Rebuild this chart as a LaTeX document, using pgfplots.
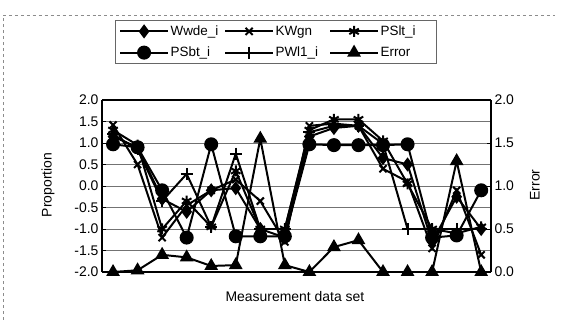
\documentclass[border=0pt]{standalone}
\usepackage{pgfplots}
\pgfplotsset{compat=1.18}
\usepackage{pgfplotstable}
\usepackage{fontspec}
\setmainfont{Liberation Sans}

\pgfplotstableread{
x  wwde  kwgn  pslt  psbt  pwl   err
0   1.15  1.42  1.30  0.97  1.20  0.00
1   0.90  0.50  0.95  0.90  0.85  0.02
2  -0.30 -1.20 -1.00 -0.10 -0.35  0.20
3  -0.60 -0.45 -0.35 -1.20  0.28  0.17
4  -0.10 -0.10 -0.95  0.97 -0.95  0.07
5  -0.05  0.15  0.35 -1.17  0.75  0.08
6  -1.00 -0.35 -1.00 -1.17 -1.00  1.55
7  -1.20 -1.30 -1.00 -1.17 -1.00  0.08
8   1.15  1.40  1.30  0.97  1.25  0.00
9   1.35  1.45  1.55  0.95  1.40  0.29
10  1.40  1.40  1.55  0.95  1.40  0.37
11  0.65  0.40  1.05  0.95  0.98  0.00
12  0.50  0.10  0.05  0.97 -1.00  0.00
13 -1.30 -1.45 -1.00 -1.20 -1.00  0.00
14 -0.25 -0.10 -1.10 -1.15 -1.00  1.29
15 -1.00 -1.60 -0.95 -0.10 -1.00  0.00
}\datatable

\begin{document}
\begin{tikzpicture}
\path (0bp,0bp) rectangle (565bp,324bp);
\draw[black!45, dashed, line width=0.5pt] (3bp,4bp) -- (3bp,309bp) -- (555bp,309bp);

\pgfplotsset{
  every axis/.append style={
    at={(102bp,52bp)}, anchor=south west,
    width=389bp, height=172bp, scale only axis,
    xmin=-0.45, xmax=15.4,
    axis line style={line width=1.2pt},
    tick style={black, line width=0.8pt},
    major tick length=4bp,
    tick label style={font=\fontsize{14}{16}\selectfont},
    label style={font=\fontsize{14}{16}\selectfont},
    yticklabel style={/pgf/number format/.cd, fixed, fixed zerofill, precision=1, assume math mode=true},
  },
  myline/.style={black, line width=2pt, mark options={solid}},
}

\begin{axis}[
  ymin=-2, ymax=2,
  axis y line*=left,
  ytick={-2,-1.5,-1,-0.5,0,0.5,1,1.5,2},
  xtick=\empty,
  ymajorgrids, grid style={black!55, line width=0.7pt},
  ylabel={Proportion},
  ylabel style={at={(axis description cs:-0.139,0.506)}, anchor=center},
  xlabel={Measurement data set},
  xlabel style={at={(axis description cs:0.496,-0.145)}, anchor=center},
  legend columns=3,
  legend cell align=left,
  legend style={at={(axis description cs:0.033,1.465)}, anchor=north west,
    draw=black!60, line width=0.5pt,
    font=\fontsize{13.5}{15}\selectfont,
    inner sep=4bp, row sep=7bp,
    nodes={inner sep=1.5bp},
    /tikz/every even column/.append style={column sep=2bp}},
  legend image code/.code={\draw[mark repeat=2,mark phase=2] plot coordinates {(0bp,0bp)(24bp,0bp)(48bp,0bp)};},
]
\addplot[myline, mark=diamond*, mark size=5.5bp] table[x=x,y=wwde]{\datatable};
\addlegendentry{\makebox[50bp][l]{Wwde\_i}}
\addplot[myline, mark=x, mark size=5bp] table[x=x,y=kwgn]{\datatable};
\addlegendentry{\makebox[50bp][l]{KWgn}}
\addplot[myline, mark=asterisk, mark size=5.5bp] table[x=x,y=pslt]{\datatable};
\addlegendentry{\makebox[50bp][l]{PSlt\_i}}
\addplot[myline, mark=*, mark size=6bp] table[x=x,y=psbt]{\datatable};
\addlegendentry{\makebox[50bp][l]{PSbt\_i}}
\addplot[myline, mark=+, mark size=6bp] table[x=x,y=pwl]{\datatable};
\addlegendentry{\makebox[50bp][l]{PWl1\_i}}
\addlegendimage{myline, mark=triangle*, mark size=6bp}
\addlegendentry{\makebox[50bp][l]{Error}}
\end{axis}

\begin{axis}[
  ymin=0, ymax=2,
  axis y line*=right,
  axis x line=none,
  ytick={0,0.5,1,1.5,2},
  ylabel={Error},
  ylabel style={at={(axis description cs:1.113,0.506)}, anchor=center},
]
\addplot[myline, mark=triangle*, mark size=6bp] table[x=x,y=err]{\datatable};
\end{axis}
\end{tikzpicture}
\end{document}
